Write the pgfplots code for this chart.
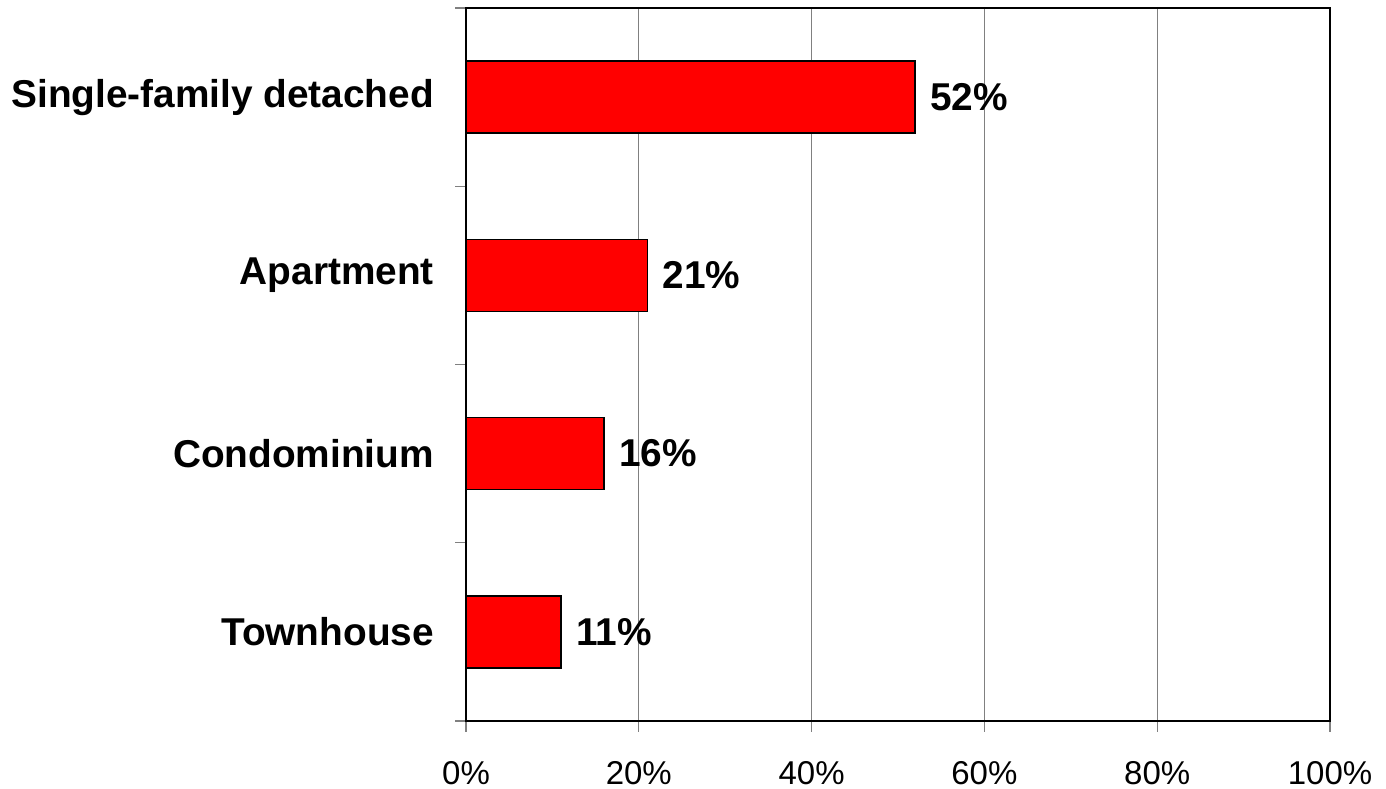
\documentclass[border=0pt]{standalone}
\usepackage{fontspec}
\setmainfont{Liberation Sans}
\usepackage{pgfplots}
\pgfplotsset{compat=1.18}

\definecolor{barred}{RGB}{255,0,0}
\definecolor{gridgray}{RGB}{128,128,128}

\begin{document}
\begin{tikzpicture}
\begin{axis}[
    name=ax,
    set layers,
    scale only axis,
    width=432pt, height=356.5pt,
    xbar, bar width=36pt, bar shift=0pt,
    xmin=0, xmax=100,
    ymin=-0.5, ymax=3.5,
    xtick={0,20,40,60,80,100},
    xticklabel={\pgfmathprintnumber{\tick}\%},
    /pgf/number format/assume math mode=true,
    xticklabel style={font=\fontsize{16.5}{18}\selectfont, yshift=-11pt},
    ytick={-0.5,0.5,1.5,2.5,3.5},
    yticklabels={},
    extra y ticks={0,1,2,3},
    extra y tick labels={Townhouse,Condominium,Apartment,Single-family detached},
    extra y tick style={major tick length=0pt, grid=none,
        yticklabel style={font=\fontsize{19.4}{21}\selectfont\bfseries, anchor=east, xshift=-12.5pt}},
    tick align=outside,
    tick pos=left,
    major tick length=5.5pt,
    tick style={gridgray, line width=0.6pt},
    xmajorgrids=true,
    grid style={gridgray, line width=0.5pt},
    axis line style={black, line width=1pt},
]
\addplot[fill=barred, draw=black, line width=0.8pt, bar shift=0pt]
    coordinates {(11,0) (16,1) (21,2) (52,3)};
\addplot[on layer=axis background, draw=none, fill=none, bar shift=0pt,
    nodes near coords={\pgfmathprintnumber{\pgfplotspointmeta}\%},
    point meta=x,
    every node near coord/.append style={font=\fontsize{19.4}{21}\selectfont\bfseries, anchor=west, xshift=4pt, text=black}]
    coordinates {(11,0) (16,1) (21,2) (52,3)};
\end{axis}
\pgfresetboundingbox
\path[use as bounding box] ([shift={(-233pt,-34pt)}]ax.south west) rectangle ([shift={(28pt,4pt)}]ax.north east);
\end{tikzpicture}
\end{document}
